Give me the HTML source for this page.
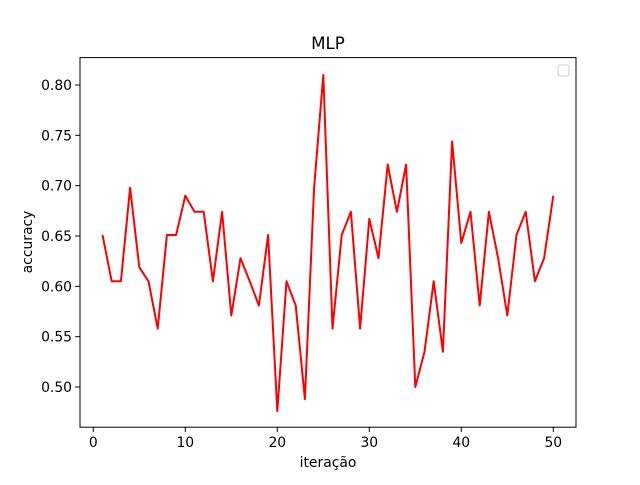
<!DOCTYPE html>
<html><head><meta charset="utf-8"><style>
body{margin:0;background:#fff}
svg text{font-family:"DejaVu Sans","Liberation Sans",sans-serif;fill:#000}
</style></head><body>
<svg id="chart" width="640" height="480" viewBox="0 0 640 480" xmlns="http://www.w3.org/2000/svg">
<rect width="640" height="480" fill="#fff"/>
<text x="328" y="49" font-size="16.7" text-anchor="middle">MLP</text>
<g id="ticks"></g>
<path id="line" fill="none" stroke="#ff0000" stroke-width="2" stroke-linejoin="round"/>
<rect x="80" y="57.6" width="496" height="369.6" fill="none" stroke="#000" stroke-width="1"/>
<rect x="558" y="65" width="11" height="11" rx="2" fill="#fff" stroke="#ccc" stroke-width="1"/>
<text x="328" y="467" font-size="13.9" text-anchor="middle">iteração</text>
<text transform="translate(32,242) rotate(-90)" font-size="13.9" text-anchor="middle">accuracy</text>
</svg>
<script>
const iterations=[1,2,3,4,5,6,7,8,9,10,11,12,13,14,15,16,17,18,19,20,21,22,23,24,25,26,27,28,29,30,31,32,33,34,35,36,37,38,39,40,41,42,43,44,45,46,47,48,49,50];
const accuracy=[0.651,0.605,0.605,0.698,0.619,0.605,0.558,0.651,0.651,0.690,0.674,0.674,0.605,0.674,0.571,0.628,0.605,0.581,0.651,0.476,0.605,0.581,0.488,0.698,0.810,0.558,0.651,0.674,0.558,0.667,0.628,0.721,0.674,0.721,0.500,0.535,0.605,0.535,0.744,0.643,0.674,0.581,0.674,0.628,0.571,0.651,0.674,0.605,0.628,0.690];
const xTicks=[0,10,20,30,40,50];
const yTicks=[0.50,0.55,0.60,0.65,0.70,0.75,0.80];
const xs=v=>93.3+v*9.2;
const ys=v=>387-(v-0.5)*1006.7;
const ns="http://www.w3.org/2000/svg";
const g=document.getElementById('ticks');
function mk(t,a){const e=document.createElementNS(ns,t);for(const k in a)e.setAttribute(k,a[k]);g.appendChild(e);return e;}
xTicks.forEach(v=>{
 const l=mk('line',{x1:xs(v),x2:xs(v),y1:427.2,y2:432,stroke:'#000','stroke-width':1});
 
 
 const t=mk('text',{x:xs(v),y:447,'font-size':13.9,'text-anchor':'middle'});t.textContent=v;
 
 
});
yTicks.forEach(v=>{
 const l=mk('line',{x1:75.2,x2:80,y1:ys(v),y2:ys(v),stroke:'#000','stroke-width':1});
 
 
 const t=mk('text',{x:72,y:ys(v)+5,'font-size':13.9,'text-anchor':'end'});t.textContent=v.toFixed(2);
 
 
});
document.getElementById('line').setAttribute('d',iterations.map((x,i)=>(i?'L':'M')+xs(x).toFixed(1)+','+ys(accuracy[i]).toFixed(1)).join(''));
</script>
</body></html>
